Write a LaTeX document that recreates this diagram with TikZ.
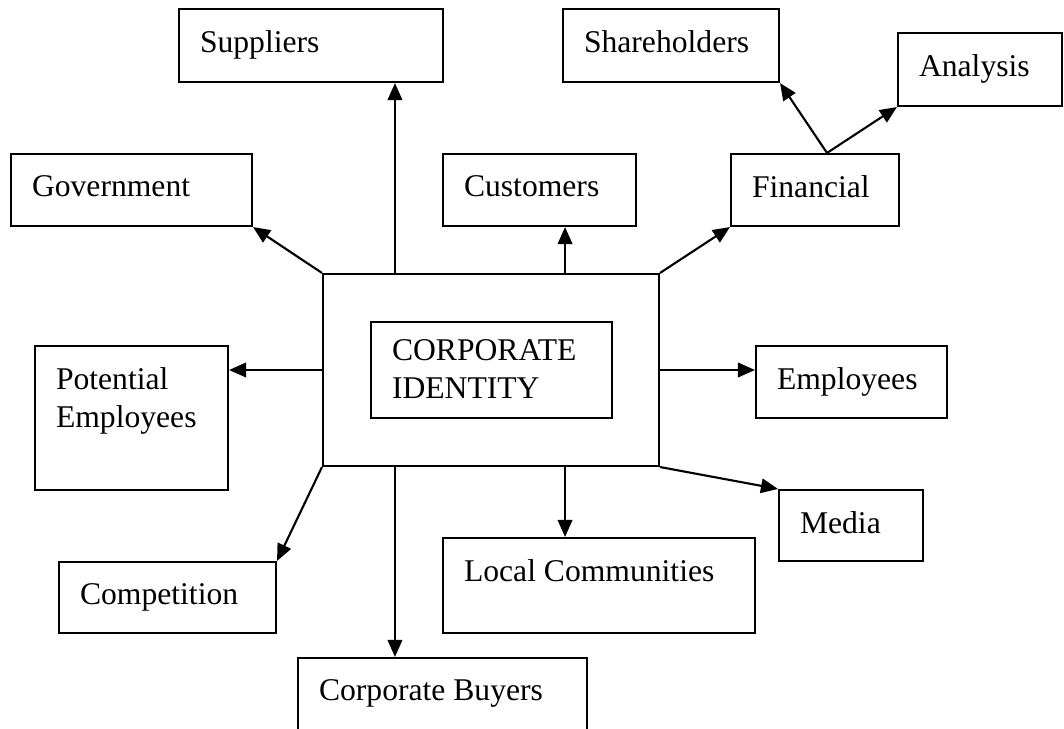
\documentclass[tikz,border=0pt]{standalone}
\usepackage{fontspec}
\setmainfont{Liberation Serif}
\usetikzlibrary{arrows.meta}

\begin{document}
\begin{tikzpicture}[x=0.02cm,y=-0.02cm,->,>={Triangle[length=0.34cm,width=0.29cm]},
  line width=1.2pt,
  box/.style={draw,rectangle,inner sep=0pt},
  txt/.style={anchor=north west,inner sep=0pt,xshift=0.42cm,yshift=-0.43cm,
    align=left,font=\fontsize{18}{21.5}\selectfont}]

  \useasboundingbox (0,0) rectangle (1064,729);

  % outer ring of boxes
  \node[box,minimum width=5.28cm,minimum height=1.46cm,label={[txt]north west:Suppliers}] (sup) at (311,45.5) {};
  \node[box,minimum width=4.32cm,minimum height=1.46cm,label={[txt]north west:Shareholders}] (share) at (671,45.5) {};
  \node[box,minimum width=3.28cm,minimum height=1.46cm,label={[txt]north west:Analysis}] (anal) at (980,69.5) {};
  \node[box,minimum width=4.82cm,minimum height=1.44cm,label={[txt]north west:Government}] (govt) at (131.5,190) {};
  \node[box,minimum width=3.86cm,minimum height=1.44cm,label={[txt]north west:Customers}] (cust) at (539.5,190) {};
  \node[box,minimum width=3.36cm,minimum height=1.44cm,label={[txt]north west:Financial}] (fin) at (815,190) {};
  \node[box,minimum width=3.86cm,minimum height=2.88cm,label={[txt]north west:Potential\\Employees}] (pot) at (131.5,418) {};
  \node[box,minimum width=3.82cm,minimum height=1.44cm,label={[txt]north west:Employees}] (emp) at (851.5,382) {};
  \node[box,minimum width=2.88cm,minimum height=1.42cm,label={[txt]north west:Media}] (media) at (851,525.5) {};
  \node[box,minimum width=4.34cm,minimum height=1.42cm,label={[txt]north west:Competition}] (comp) at (167.5,597.5) {};
  \node[box,minimum width=6.24cm,minimum height=1.90cm,label={[txt]north west:Local Communities}] (local) at (599,585.5) {};
  \node[box,minimum width=5.78cm,minimum height=2.04cm,label={[txt]north west:Corporate Buyers}] (buyer) at (442.5,709) {};

  % centre
  \node[box,minimum width=6.72cm,minimum height=3.84cm] (core) at (491,370) {};
  \node[box,minimum width=4.82cm,minimum height=1.92cm,label={[txt,yshift=0.07cm]north west:CORPORATE\\IDENTITY}] (ident) at (491.5,370) {};

  \draw ([xshift=1.46cm]core.north west) -- ([xshift=1.46cm]core.north west |- sup.south);
  \draw ([xshift=1.46cm]core.south west) -- ([xshift=1.46cm]core.south west |- buyer.north);
  \draw ([xshift=-1.9cm]core.north east) -- ([xshift=-1.9cm]core.north east |- cust.south);
  \draw ([xshift=-1.9cm]core.south east) -- ([xshift=-1.9cm]core.south east |- local.north);
  \draw (core.north west) -- (govt.south east);
  \draw (core.north east) -- (fin.south west);
  \draw (core.west) -- (core.west -| pot.east);
  \draw (core.east) -- (core.east -| emp.west);
  \draw (core.south west) -- (comp.north east);
  \draw (core.south east) -- (media.north west);
  \draw ([xshift=0.24cm]fin.north) -- (share.south east);
  \draw ([xshift=0.24cm]fin.north) -- (anal.south west);
\end{tikzpicture}
\end{document}
